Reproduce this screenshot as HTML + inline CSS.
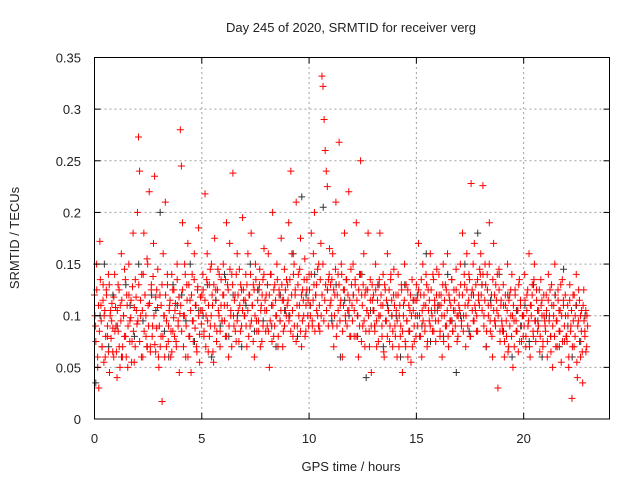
<!DOCTYPE html>
<html><head><meta charset="utf-8"><style>
html,body{margin:0;padding:0;background:#fff;}
svg{display:block;font-family:"Liberation Sans",sans-serif;}
</style></head><body>
<svg id="chart" width="640" height="480" viewBox="0 0 640 480" xmlns="http://www.w3.org/2000/svg">
<rect width="640" height="480" fill="#fff"/>
<g id="grid"></g>
<g id="pts"></g>
<rect x="94.5" y="57.5" width="515" height="361.5" fill="none" stroke="#000" stroke-width="1"/>
<g id="ticks"></g>
<text x="351" y="32" font-size="13" text-anchor="middle" fill="#222">Day 245 of 2020, SRMTID for receiver verg</text>
<text x="351" y="471" font-size="13" text-anchor="middle" fill="#222">GPS time / hours</text>
<text x="19" y="238" font-size="13" text-anchor="middle" fill="#222" transform="rotate(-90 19 238)">SRMTID / TECUs</text>
</svg>
<script>
const xTicks=[0,5,10,15,20];
const yTicks=[0,0.05,0.1,0.15,0.2,0.25,0.3,0.35];
const yTickLabels=["0","0.05","0.1","0.15","0.2","0.25","0.3","0.35"];
const redByHour=[
[120,90,150,50,30,172,110,70,130,100,60,125,80,140,45,105,95,65,118,85],
[90,40,130,70,110,160,60,100,145,80,120,50,150,95,115,75,180,55,135,105],
[200,273,240,100,140,60,180,120,80,155,110,220,70,130,90,170,235,65,125,145],
[50,120,80,17,160,100,210,70,130,90,110,60,140,85,125,105,75,150,95,45],
[280,245,190,100,150,60,130,170,80,115,45,140,95,160,110,70,125,185,55,105],
[120,140,80,218,100,160,65,130,90,150,110,55,175,125,85,145,100,70,135,95],
[150,110,80,190,130,60,170,100,140,238,90,120,75,160,105,145,85,125,195,115],
[100,140,70,160,120,90,180,110,130,60,150,95,125,85,145,105,75,135,165,115],
[120,90,160,50,140,110,200,80,130,100,150,70,125,95,175,115,85,145,105,135],
[130,190,100,240,160,80,150,120,210,90,140,110,175,70,125,100,155,85,135,115],
[140,110,180,90,160,200,120,130,100,150,85,170,332,322,290,260,240,225,135,165],
[130,100,160,70,120,210,90,140,268,110,150,60,125,180,95,135,105,220,80,145],
[110,150,80,130,190,100,60,140,250,120,90,160,70,125,105,180,85,135,45,115],
[120,90,150,70,130,100,180,110,80,140,60,125,95,160,105,75,135,115,85,145],
[90,120,60,140,100,80,130,45,110,150,70,95,125,85,105,55,135,115,75,100],
[130,100,170,80,120,60,150,110,90,140,70,125,95,160,105,85,135,115,75,145],
[110,140,80,120,60,150,100,130,90,160,70,115,95,135,85,125,105,145,75,100],
[120,150,90,180,100,130,70,160,110,140,80,228,125,95,170,105,85,135,115,145],
[160,130,226,100,150,70,140,110,190,85,120,60,170,95,130,105,30,145,75,115],
[90,130,60,110,80,150,70,120,100,140,50,95,125,85,105,65,135,115,75,100],
[100,140,70,120,90,160,60,110,130,80,150,95,125,85,105,65,135,115,75,100],
[90,120,60,140,100,80,130,50,110,150,70,95,125,85,105,55,135,115,75,100],
[80,110,50,130,90,20,120,70,100,140,40,95,115,60,105,35,125,85,65,100]
];
const redByHour2=[
[100,75,125,60,110,85,135,95,70,115,55,105,80,120,90,65,130,100,78,112,88,60,140,108],
[65,105,85,125,50,95,115,70,100,80,135,60,110,90,120,75,98,55,128,85,108,70,118,92],
[95,130,75,115,60,105,140,85,120,100,70,150,90,112,65,125,80,138,100,72,118,88,108,60],
[90,70,110,130,80,100,60,120,95,140,75,105,115,85,65,125,98,80,112,70,135,90,118,102],
[110,85,125,70,100,140,90,115,60,130,80,105,120,95,75,135,88,110,65,128,100,82,118,92],
[105,125,85,115,70,135,95,110,80,145,100,120,65,130,90,115,75,125,105,140,85,110,95,120],
[120,95,135,80,110,125,90,145,105,70,130,100,115,85,140,95,120,75,110,130,90,105,125,100],
[115,90,130,105,80,120,140,95,110,75,125,100,135,85,115,95,130,70,110,120,90,140,105,85],
[105,130,85,120,95,140,75,110,125,90,115,100,135,80,120,95,105,130,70,115,90,125,100,110],
[115,95,135,85,120,105,140,90,125,75,110,130,100,145,85,120,95,115,135,80,110,125,100,90],
[125,100,140,95,115,130,85,120,105,145,90,110,135,100,120,150,95,115,130,105,125,90,140,110],
[115,135,90,125,100,145,80,120,105,130,95,115,140,85,110,125,100,135,90,120,105,115,80,130],
[95,120,105,135,80,115,100,125,90,140,75,110,130,95,120,85,105,125,100,70,115,90,130,105],
[105,85,125,95,115,75,135,100,120,90,110,65,130,95,115,80,105,125,90,140,100,70,120,110],
[80,105,95,120,70,110,90,125,85,100,115,75,130,95,60,110,85,120,100,70,105,90,115,80],
[115,90,125,100,80,135,105,95,120,85,110,130,75,105,115,90,125,100,140,85,110,95,120,105],
[95,120,85,110,100,130,75,115,90,125,105,80,120,95,110,135,85,105,115,90,125,100,80,110],
[105,130,95,120,85,140,110,100,125,90,115,135,80,120,105,150,95,110,130,100,85,120,110,140],
[120,105,140,90,115,130,85,125,100,150,95,110,80,135,105,120,90,115,140,100,125,85,110,95],
[85,110,75,120,95,105,65,115,90,125,80,100,110,70,120,95,85,105,130,75,110,90,100,80],
[90,115,80,105,125,95,70,110,100,120,85,135,95,75,115,105,90,125,80,110,100,70,120,95],
[85,105,75,115,95,125,65,110,90,100,80,120,95,70,115,105,85,130,100,75,110,90,120,80],
[75,100,60,115,85,105,70,95,120,80,110,55,90,125,75,100,85,65,110,95,80,105,70,90]
];
const blackByHour=[
[35,100,150,70,120],[90,60,130,110,80],[150,95,70,120,105],[200,85,60,130,110],
[120,95,150,75,105],[100,130,60,115,90],[140,80,120,100,70],[110,150,85,125,95],
[130,90,70,120,105],[100,160,80,215,120],[110,140,90,205,125],[95,130,60,115,100],
[120,80,140,40,105],[90,130,70,110,100],[100,60,130,85,115],[120,90,160,75,105],
[110,80,140,95,45],[100,150,85,120,180],[130,70,115,95,140],[85,120,60,105,90],
[110,75,130,95,60],[100,80,120,70,145],[90,60,110,75,100]
];
const X0=94.5,X1=609.5,Y0=419,Y1=57.5,XMAX=24,YMAX=0.35;
const xs=t=>X0+(X1-X0)*t/XMAX;
const ys=v=>Y0-(Y0-Y1)*v/YMAX;
const NS="http://www.w3.org/2000/svg";
const grid=document.getElementById('grid'),ticks=document.getElementById('ticks'),pts=document.getElementById('pts');
function mk(tag,attrs,parent){const e=document.createElementNS(NS,tag);for(const k in attrs)e.setAttribute(k,attrs[k]);parent.appendChild(e);return e;}
xTicks.forEach((t,i)=>{
 const x=xs(t);
 if(t>0){const g=mk('line',{x1:x,y1:Y0,x2:x,y2:Y1,stroke:'#a0a0a0','stroke-dasharray':'2,3'},grid);
 
 }
 const a=mk('line',{x1:x,y1:Y0,x2:x,y2:Y0-6,stroke:'#000'},ticks);
 
 
 const b=mk('line',{x1:x,y1:Y1,x2:x,y2:Y1+6,stroke:'#000'},ticks);
 
 
 const tx=mk('text',{x:x,y:443,'font-size':13,'text-anchor':'middle',fill:'#222'},ticks);
 tx.textContent=String(t);
 
 
});
yTicks.forEach((v,i)=>{
 const y=ys(v);
 if(v>0&&v<YMAX){const g=mk('line',{x1:X0,y1:y,x2:X1,y2:y,stroke:'#a0a0a0','stroke-dasharray':'2,3'},grid);
 
 }
 const a=mk('line',{x1:X0,y1:y,x2:X0+6,y2:y,stroke:'#000'},ticks);
 
 
 const b=mk('line',{x1:X1,y1:y,x2:X1-6,y2:y,stroke:'#000'},ticks);
 
 
 const tx=mk('text',{x:81,y:y+5,'font-size':13,'text-anchor':'end',fill:'#222'},ticks);
 tx.textContent=yTickLabels[i];
 
 
});
function plus(t,v,color,name){
 const x=xs(t),y=ys(v);
 const p=mk('path',{d:`M${x-3.5},${y}H${x+3.5}M${x},${y-3.5}V${y+3.5}`,stroke:color,'stroke-width':1,fill:'none'},pts);
 
 
}
blackByHour.forEach((arr,h)=>arr.forEach((v,k)=>plus(h+(k+0.3)/arr.length,v/1000,'#333','black-point')));
redByHour.forEach((arr,h)=>arr.forEach((v,k)=>plus(h+k/arr.length,v/1000,'#f00','red-point')));
redByHour2.forEach((arr,h)=>arr.forEach((v,k)=>plus(h+(k+0.5)/arr.length,v/1000,'#f00','red-point')));
</script>
</body></html>
